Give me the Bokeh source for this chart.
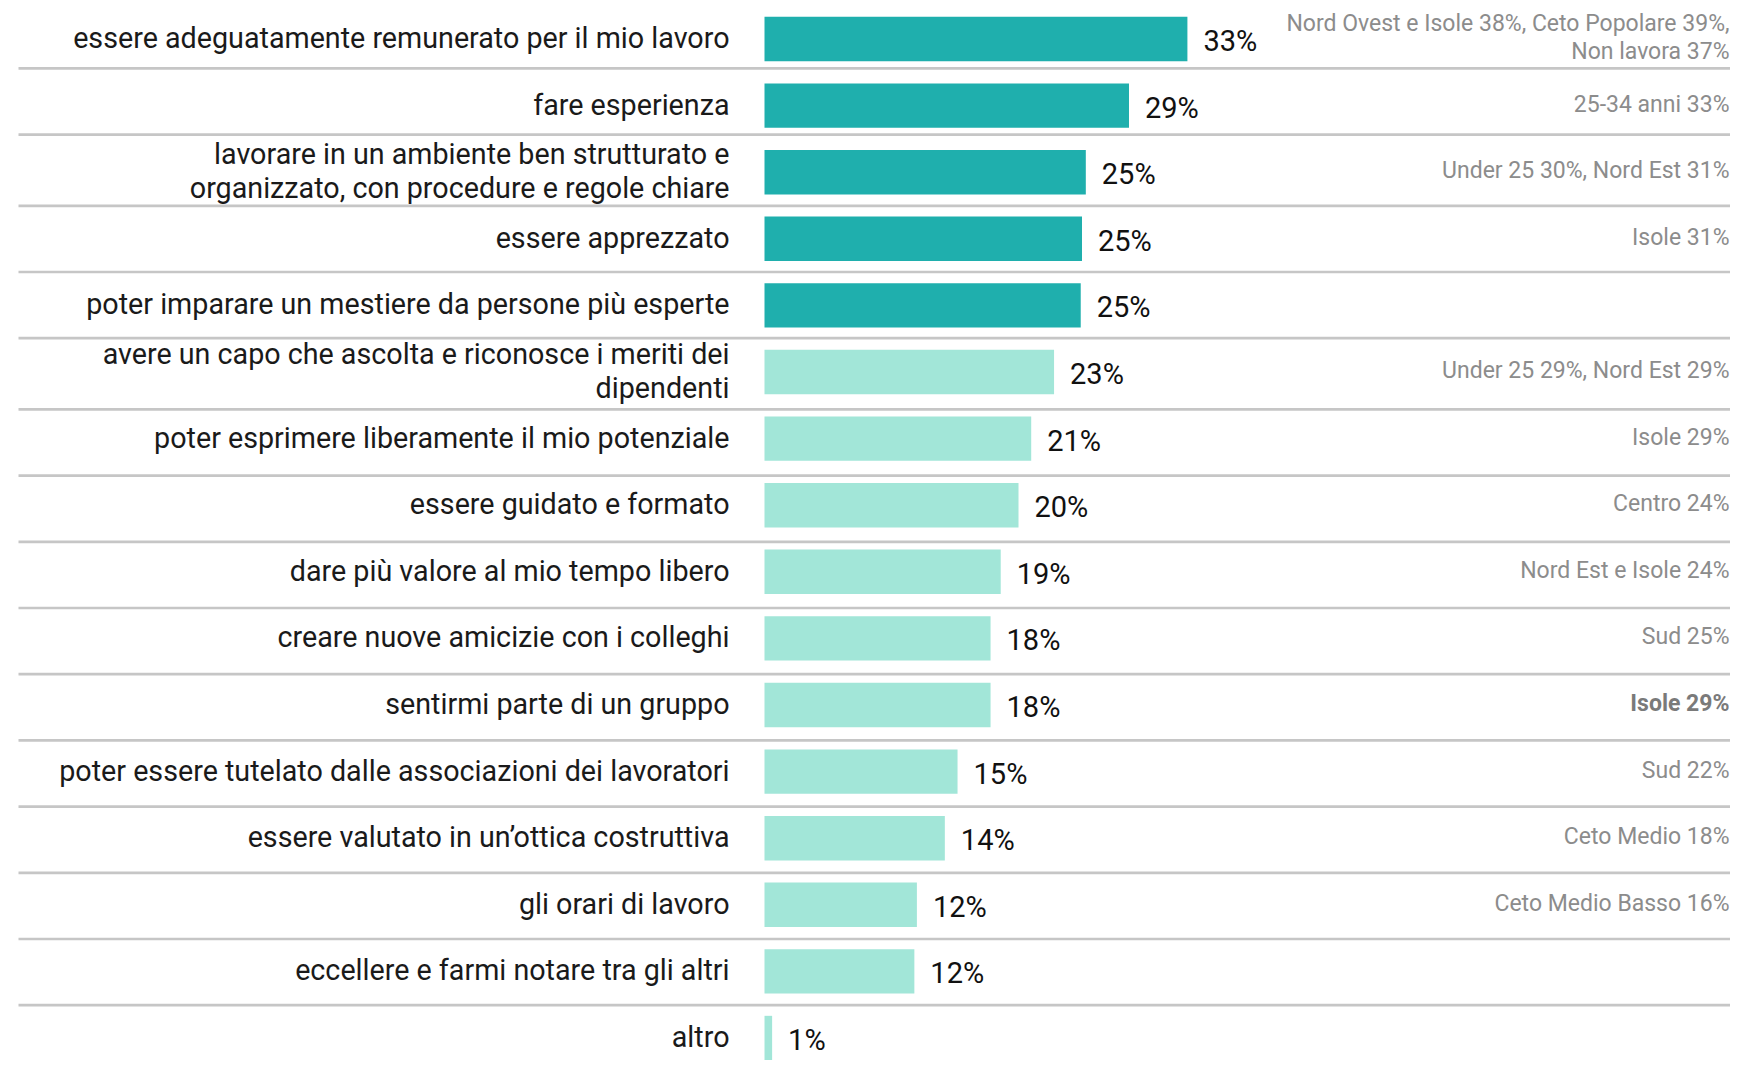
from bokeh.plotting import figure
from bokeh.models import ColumnDataSource, Range1d
from bokeh.core.properties import value
from bokeh.embed import file_html
from bokeh.resources import INLINE

# ---------------- data ----------------
categories = [
    "essere adeguatamente remunerato per il mio lavoro",
    "fare esperienza",
    "lavorare in un ambiente ben strutturato e\norganizzato, con procedure e regole chiare",
    "essere apprezzato",
    "poter imparare un mestiere da persone più esperte",
    "avere un capo che ascolta e riconosce i meriti dei\ndipendenti",
    "poter esprimere liberamente il mio potenziale",
    "essere guidato e formato",
    "dare più valore al mio tempo libero",
    "creare nuove amicizie con i colleghi",
    "sentirmi parte di un gruppo",
    "poter essere tutelato dalle associazioni dei lavoratori",
    "essere valutato in un’ottica costruttiva",
    "gli orari di lavoro",
    "eccellere e farmi notare tra gli altri",
    "altro",
]
values = [33.3, 28.7, 25.3, 25.0, 24.9, 22.8, 21.0, 20.0, 18.6, 17.8, 17.8,
          15.2, 14.2, 12.0, 11.8, 0.6]
value_labels = ["33%", "29%", "25%", "25%", "25%", "23%", "21%", "20%", "19%",
                "18%", "18%", "15%", "14%", "12%", "12%", "1%"]
annotations = [
    "Nord Ovest e Isole 38%, Ceto Popolare 39%,\nNon lavora 37%",
    "25-34 anni 33%",
    "Under 25 30%, Nord Est 31%",
    "Isole 31%",
    "",
    "Under 25 29%, Nord Est 29%",
    "Isole 29%",
    "Centro 24%",
    "Nord Est e Isole 24%",
    "Sud 25%",
    "Isole 29%",
    "Sud 22%",
    "Ceto Medio 18%",
    "Ceto Medio Basso 16%",
    "",
    "",
]
bold_annotation = [False] * 10 + [True] + [False] * 5
n_top = 5  # first items highlighted

# ---------------- layout ----------------
W, H = 1730, 1060
PX_PER_UNIT = 12.7      # pixels per percentage point
X0_PX = 764             # screen x of value 0
ROW_PX = 66.6           # pixels per row
Y0_PX = 38.5            # screen y of first row centre
BAR_H = 0.666

DARK = "#1FAFAD"
LIGHT = "#A2E6D8"
SEP = "#C6C6C6"

x_start = -X0_PX / PX_PER_UNIT
x_end = x_start + W / PX_PER_UNIT
y_top = -Y0_PX / ROW_PX
y_bottom = (H - Y0_PX) / ROW_PX


def px_to_x(px):
    return x_start + px / PX_PER_UNIT


def px_to_y(px):
    return (px - Y0_PX) / ROW_PX


p = figure(width=W, height=H, output_backend="svg", toolbar_location=None,
           x_range=Range1d(x_start, x_end), y_range=Range1d(y_bottom, y_top),
           min_border=0, outline_line_color=None)
p.xaxis.visible = False
p.yaxis.visible = False
p.xgrid.visible = False
p.ygrid.visible = False
p.background_fill_color = "white"
p.border_fill_color = "white"

n = len(categories)
idx = list(range(n))

# separators
n_lines = [len(c.split("\n")) for c in categories]
sep_y = []
cur = Y0_PX + 29.4
for k in range(n - 1):
    if k > 0:
        cur += ROW_PX * 0.994 + 5.0 * (n_lines[k] - 1)
    sep_y.append(px_to_y(cur))
p.segment(x0=[px_to_x(18)] * len(sep_y), x1=[x_end] * len(sep_y),
          y0=sep_y, y1=sep_y, line_color=SEP, line_width=2.7)

# bars
bar_src = ColumnDataSource(dict(
    y=idx, right=values,
    color=[DARK if i < n_top else LIGHT for i in idx]))
p.hbar(y="y", left=0, right="right", height=BAR_H, fill_color="color",
       line_color=None, source=bar_src)

# category labels
lx, ly, lt = [], [], []
LINE_PX = 34.5
for i, c in enumerate(categories):
    lines = c.split("\n")
    m = len(lines)
    for j, line in enumerate(lines):
        lx.append(0)
        ly.append(i + ((j - (m - 1) / 2) * LINE_PX - 1) / ROW_PX)
        lt.append(line)
p.text(x=lx, y=ly, text=lt, x_offset=-35, text_align="right",
       text_baseline="middle", text_font=value("Roboto"),
       text_font_size="28.7px", text_color="#1a1a1a")

# value labels
p.text(x=values, y=[i + 2 / ROW_PX for i in idx], text=value_labels,
       x_offset=16, text_align="left", text_baseline="middle",
       text_font=value("Roboto"), text_font_size="29px", text_color="#111111")

# annotations
ax_, ay_, at_ = [], [], []
bx_, by_, bt_ = [], [], []
ALINE_PX = 27.8
x_right = px_to_x(W - 1)
for i, a in enumerate(annotations):
    if not a:
        continue
    lines = a.split("\n")
    m = len(lines)
    for j, line in enumerate(lines):
        yy = i + ((j - (m - 1) / 2) * ALINE_PX - 1.5) / ROW_PX
        if bold_annotation[i]:
            bx_.append(x_right); by_.append(yy); bt_.append(line)
        else:
            ax_.append(x_right); ay_.append(yy); at_.append(line)
p.text(x=ax_, y=ay_, text=at_, text_align="right", text_baseline="middle",
       text_font=value("Roboto"), text_font_size="23px",
       text_color="#8c8c8c")
p.text(x=bx_, y=by_, text=bt_, text_align="right", text_baseline="middle",
       text_font=value("Roboto"), text_font_size="23px",
       text_font_style="bold", text_color="#7a7a7a")

open("out.html", "w").write(file_html(p, INLINE))
